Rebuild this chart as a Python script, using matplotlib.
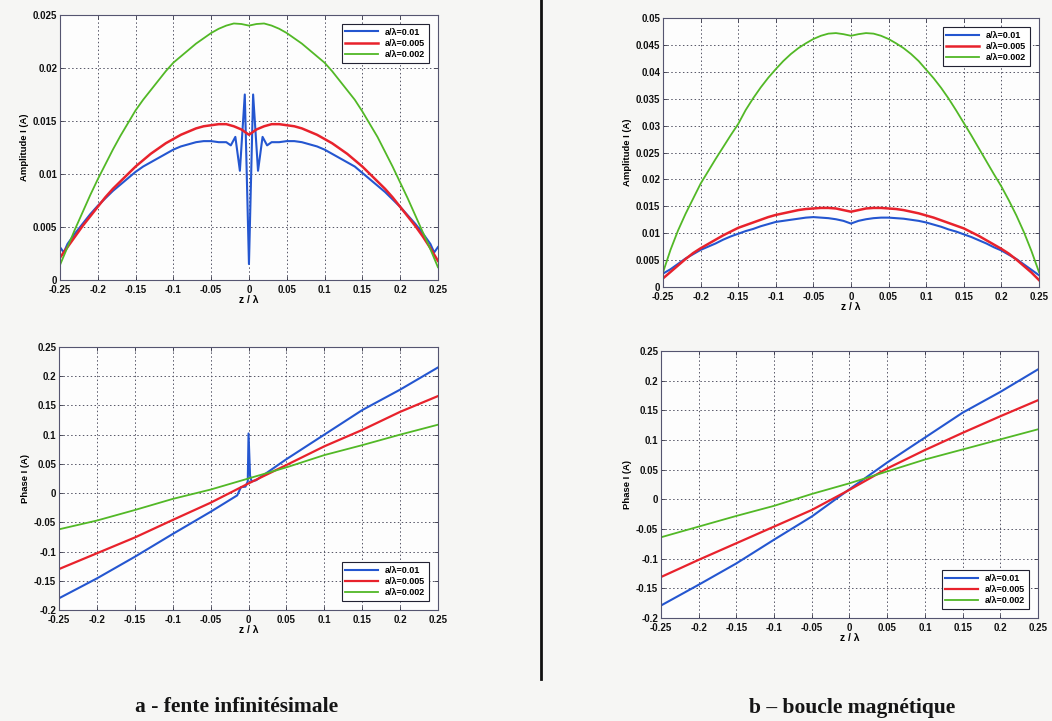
import matplotlib
matplotlib.use("Agg")
import matplotlib.pyplot as plt
from matplotlib.ticker import MultipleLocator, FuncFormatter

# ---- data ----
labels = ["a/λ=0.01", "a/λ=0.005", "a/λ=0.002"]
colors = ["#2456d0", "#e8222c", "#52b826"]

z = [round(-0.25 + 0.01 * i, 2) for i in range(51)]
z_ph = [-0.25, -0.2, -0.15, -0.1, -0.05, 0, 0.05, 0.1, 0.15, 0.2, 0.25]

# (a) fente infinitesimale - amplitude
amp_a_z1 = [-0.25, -0.245, -0.24, -0.23, -0.22, -0.21, -0.2, -0.19, -0.18, -0.17, -0.16,
            -0.15, -0.14, -0.13, -0.12, -0.11, -0.1, -0.09, -0.08, -0.07, -0.06, -0.05,
            -0.04, -0.03, -0.024, -0.018, -0.012, -0.0055, 0, 0.0055, 0.012, 0.018,
            0.024, 0.03, 0.04, 0.05, 0.06, 0.07, 0.08, 0.09, 0.1, 0.11, 0.12, 0.13,
            0.14, 0.15, 0.16, 0.17, 0.18, 0.19, 0.2, 0.21, 0.22, 0.23, 0.24, 0.245, 0.25]
amp_a_1 = [0.0031, 0.0026, 0.0034, 0.0044, 0.0053, 0.0062, 0.0070, 0.0077, 0.0084, 0.0090,
           0.0096, 0.0102, 0.0107, 0.0111, 0.0115, 0.0119, 0.0123, 0.0126, 0.0128, 0.0130,
           0.0131, 0.0131, 0.0130, 0.0130, 0.0127, 0.0135, 0.0103, 0.0175, 0.0015, 0.0175,
           0.0103, 0.0135, 0.0127, 0.0130, 0.0130, 0.0131, 0.0131, 0.0130, 0.0128, 0.0126,
           0.0123, 0.0119, 0.0115, 0.0111, 0.0107, 0.0101, 0.0095, 0.0089, 0.0083, 0.0076,
           0.0069, 0.0061, 0.0053, 0.0044, 0.0034, 0.0026, 0.0031]
amp_a_2 = [0.0021, 0.0031, 0.0041, 0.0051, 0.0060, 0.0069, 0.0078, 0.0086, 0.0093, 0.0100,
           0.0107, 0.0113, 0.0119, 0.0124, 0.0129, 0.0133, 0.0137, 0.0140, 0.0143, 0.0145,
           0.0146, 0.0147, 0.0147, 0.0145, 0.0142, 0.0137, 0.0142, 0.0145, 0.0147, 0.0147,
           0.0146, 0.0145, 0.0143, 0.0140, 0.0137, 0.0133, 0.0129, 0.0124, 0.0119, 0.0113,
           0.0107, 0.0100, 0.0093, 0.0086, 0.0078, 0.0069, 0.0060, 0.0051, 0.0041, 0.0030,
           0.0018]
amp_a_3 = [0.0014, 0.0031, 0.0048, 0.0064, 0.0080, 0.0095, 0.0109, 0.0123, 0.0136, 0.0148,
           0.0160, 0.0170, 0.0179, 0.0188, 0.0197, 0.0205, 0.0211, 0.0217, 0.0223, 0.0228,
           0.0233, 0.0237, 0.0240, 0.0242, 0.02415, 0.0240, 0.02415, 0.0242, 0.0240, 0.0237,
           0.0233, 0.0228, 0.0223, 0.0217, 0.0211, 0.0205, 0.0197, 0.0188, 0.0179, 0.0170,
           0.0159, 0.0147, 0.0135, 0.0121, 0.0107, 0.0092, 0.0077, 0.0061, 0.0045, 0.0029,
           0.0012]

# (b) boucle magnetique - amplitude
amp_b_1 = [0.0025, 0.0033, 0.0043, 0.0053, 0.0061, 0.0069, 0.0075, 0.0081, 0.0088, 0.0094,
           0.0099, 0.0104, 0.0108, 0.0113, 0.0117, 0.0121, 0.0123, 0.0125, 0.0127, 0.0129,
           0.0130, 0.0129, 0.0128, 0.0126, 0.0123, 0.0118, 0.0123, 0.0126, 0.0128, 0.0129,
           0.0129, 0.0128, 0.0127, 0.0125, 0.0123, 0.0120, 0.0116, 0.0112, 0.0107, 0.0103,
           0.0098, 0.0093, 0.0087, 0.0081, 0.0074, 0.0068, 0.0060, 0.0052, 0.0042, 0.0032,
           0.0022]
amp_b_2 = [0.0016, 0.0028, 0.0040, 0.0052, 0.0063, 0.0072, 0.0080, 0.0088, 0.0096, 0.0103,
           0.0110, 0.0115, 0.0120, 0.0125, 0.0130, 0.0134, 0.0137, 0.0140, 0.0143, 0.0145,
           0.0146, 0.0147, 0.0147, 0.0146, 0.0143, 0.0140, 0.0143, 0.0146, 0.0147, 0.0147,
           0.0146, 0.0145, 0.0143, 0.0140, 0.0137, 0.0133, 0.0129, 0.0124, 0.0119, 0.0114,
           0.0109, 0.0102, 0.0095, 0.0087, 0.0079, 0.0071, 0.0062, 0.0051, 0.0039, 0.0027,
           0.0013]
amp_b_3 = [0.0027, 0.0069, 0.0105, 0.0136, 0.0164, 0.0192, 0.0215, 0.0238, 0.0260, 0.0282,
           0.0303, 0.0329, 0.0351, 0.0371, 0.0389, 0.0405, 0.0420, 0.0433, 0.0444, 0.0453,
           0.0461, 0.0467, 0.0471, 0.0472, 0.0470, 0.0467, 0.0470, 0.0472, 0.0471, 0.0467,
           0.0461, 0.0453, 0.0444, 0.0433, 0.0420, 0.0404, 0.0388, 0.0370, 0.0350, 0.0328,
           0.0305, 0.0282, 0.0258, 0.0234, 0.0210, 0.0187, 0.0161, 0.0133, 0.0102, 0.0067,
           0.0028]

# (a) phase
ph_a_z1 = [-0.25, -0.2, -0.15, -0.1, -0.05, -0.015, -0.01, -0.004, -0.001, 0, 0.002,
           0.004, 0.01, 0.05, 0.1, 0.15, 0.2, 0.25]
ph_a_1 = [-0.180, -0.146, -0.109, -0.070, -0.032, -0.004, 0.010, 0.011, 0.020, 0.102,
          0.030, 0.020, 0.022, 0.058, 0.100, 0.142, 0.177, 0.215]
ph_a_2 = [-0.130, -0.103, -0.076, -0.046, -0.0165, 0.0165, 0.048, 0.080, 0.108, 0.139, 0.166]
ph_a_3 = [-0.062, -0.047, -0.029, -0.010, 0.006, 0.025, 0.044, 0.065, 0.082, 0.100, 0.117]

# (b) phase
ph_b_1 = [-0.179, -0.144, -0.108, -0.068, -0.029, 0.017, 0.062, 0.104, 0.146, 0.181, 0.219]
ph_b_2 = [-0.131, -0.102, -0.074, -0.046, -0.018, 0.016, 0.052, 0.083, 0.112, 0.140, 0.167]
ph_b_3 = [-0.064, -0.046, -0.028, -0.011, 0.009, 0.027, 0.047, 0.067, 0.084, 0.101, 0.118]

plt.rcParams["font.family"] = ["Liberation Sans", "DejaVu Sans"]

fig = plt.figure(figsize=(10.52, 7.21), dpi=100, facecolor="#f6f6f4")

fmt = FuncFormatter(lambda v, p: "%g" % round(v, 4) if abs(v) > 1e-9 else "0")


def style(ax, ylo, yhi, ystep, ylabel, legend_loc):
    ax.set_facecolor("#fdfdfd")
    ax.set_xlim(-0.25, 0.25)
    ax.set_ylim(ylo, yhi)
    ax.xaxis.set_major_locator(MultipleLocator(0.05))
    ax.yaxis.set_major_locator(MultipleLocator(ystep))
    ax.xaxis.set_major_formatter(fmt)
    ax.yaxis.set_major_formatter(fmt)
    ax.grid(True, linestyle=(0, (1.5, 2.5)), color="#555566", linewidth=0.7)
    ax.tick_params(direction="in", length=3, width=0.6, labelsize=7, pad=2,
                   colors="#333344", labelcolor="#111111", top=True, right=True)
    ax.tick_params(axis="x", pad=3.5)
    for lab in ax.get_xticklabels() + ax.get_yticklabels():
        lab.set_fontweight("bold")
    for s in ax.spines.values():
        s.set_color("#555570")
        s.set_linewidth(0.8)
    ax.set_xlabel("z / λ", fontsize=7.5, fontweight="bold", labelpad=0)
    ax.set_ylabel(ylabel, fontsize=6.8, fontweight="bold", labelpad=3)
    leg = ax.legend(loc=legend_loc, fancybox=False, framealpha=1,
                    edgecolor="#222233", handlelength=3.6, borderpad=0.4,
                    labelspacing=0.25, handletextpad=0.8, borderaxespad=1.0,
                    prop={"weight": "bold", "size": 6.5})
    leg.get_frame().set_linewidth(0.8)


ax1 = fig.add_axes([0.0570, 0.6117, 0.3593, 0.3675])
ax1.plot(amp_a_z1, amp_a_1, color=colors[0], lw=1.5, label=labels[0])
ax1.plot(z, amp_a_2, color=colors[1], lw=1.8, label=labels[1])
ax1.plot(z, amp_a_3, color=colors[2], lw=1.3, label=labels[2])
style(ax1, 0, 0.025, 0.005, "Amplitude I (A)", "upper right")

ax2 = fig.add_axes([0.6302, 0.6019, 0.3574, 0.3731])
ax2.plot(z, amp_b_1, color=colors[0], lw=1.5, label=labels[0])
ax2.plot(z, amp_b_2, color=colors[1], lw=1.8, label=labels[1])
ax2.plot(z, amp_b_3, color=colors[2], lw=1.3, label=labels[2])
style(ax2, 0, 0.05, 0.005, "Amplitude I (A)", "upper right")

ax3 = fig.add_axes([0.0561, 0.1540, 0.3603, 0.3648])
ax3.plot(ph_a_z1, ph_a_1, color=colors[0], lw=1.5, label=labels[0])
ax3.plot(z_ph, ph_a_2, color=colors[1], lw=1.6, label=labels[1])
ax3.plot(z_ph, ph_a_3, color=colors[2], lw=1.3, label=labels[2])
style(ax3, -0.2, 0.25, 0.05, "Phase I (A)", "lower right")

ax4 = fig.add_axes([0.6283, 0.1429, 0.3584, 0.3703])
ax4.plot(z_ph, ph_b_1, color=colors[0], lw=1.5, label=labels[0])
ax4.plot(z_ph, ph_b_2, color=colors[1], lw=1.6, label=labels[1])
ax4.plot(z_ph, ph_b_3, color=colors[2], lw=1.3, label=labels[2])
style(ax4, -0.2, 0.25, 0.05, "Phase I (A)", "lower right")

# separator line and captions of the scanned page
fig.add_artist(plt.Line2D([541 / 1052, 541 / 1052], [1, 1 - 679 / 721],
                          transform=fig.transFigure, color="#111111", lw=2))
fig.text(237 / 1052, 1 - 707 / 721, "a - fente infinitésimale", ha="center", va="center",
         fontsize=15.5, fontweight="bold", family="Liberation Serif", color="#151515")
fig.text(852 / 1052, 1 - 708 / 721, "b – boucle magnétique", ha="center", va="center",
         fontsize=15.5, fontweight="bold", family="Liberation Serif", color="#151515")

fig.savefig("out.png", dpi=100, facecolor=fig.get_facecolor())
